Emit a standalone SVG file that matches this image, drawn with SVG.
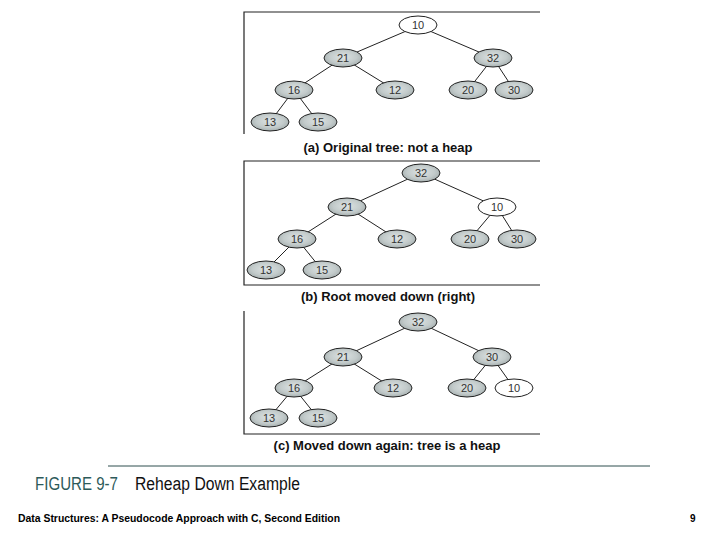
<svg xmlns="http://www.w3.org/2000/svg" width="720" height="540" viewBox="0 0 720 540">
<defs>
<radialGradient id="g" cx="0.5" cy="0.45" r="0.6">
<stop offset="0" stop-color="#dde3e3"/>
<stop offset="0.6" stop-color="#c3cbcb"/>
<stop offset="1" stop-color="#9fa9a9"/>
</radialGradient>
<style>
.n{fill:url(#g);stroke:#222;stroke-width:1}
.w{fill:#fff;stroke:#222;stroke-width:1}
.t{font-family:"Liberation Sans",Arial,sans-serif;font-size:11px;fill:#333;text-anchor:middle}
.e{stroke:#222;stroke-width:1;fill:none}
.f{stroke:#222;stroke-width:1.2;fill:none}
.cap{font-family:"Liberation Sans",Arial,sans-serif;font-size:13px;font-weight:bold;fill:#111;text-anchor:middle}
.fig{font-family:"Liberation Sans",Arial,sans-serif;font-size:18px}
</style>
</defs>
<rect width="720" height="540" fill="#fff"/>
<g id="frames">
<path class="f" d="M540 12 H244 V134"/>
<path class="f" d="M540 161 H244 V285 H540"/>
<path class="f" d="M244 311 V434 H540"/>
</g>
<g id="connectors">
<path class="e" d="M418 26 L343 58 M418 26 L493 58 M343 58 L294 90 M343 58 L395 90 M493 58 L468 90 M493 58 L514 90 M294 90 L270 122 M294 90 L318 122"/>
<path class="e" d="M421 173 L347 207 M421 173 L497 207 M347 207 L297 239 M347 207 L397 239 M497 207 L470 239 M497 207 L517 239 M297 239 L266 270 M297 239 L322 270"/>
<path class="e" d="M418 322 L343 357 M418 322 L492 357 M343 357 L294 388 M343 357 L393 388 M492 357 L467 388 M492 357 L514 388 M294 388 L269 418 M294 388 L318 418"/>
</g>
<g id="a10"><ellipse class="w" cx="418" cy="25" rx="19" ry="9"/><text class="t" x="418" y="29">10</text></g>
<g id="a21"><ellipse class="n" cx="343" cy="58" rx="19" ry="9"/><text class="t" x="343" y="62">21</text></g>
<g id="a32"><ellipse class="n" cx="493" cy="58" rx="19" ry="9"/><text class="t" x="493" y="62">32</text></g>
<g id="a16"><ellipse class="n" cx="294" cy="90" rx="19" ry="9"/><text class="t" x="294" y="94">16</text></g>
<g id="a12"><ellipse class="n" cx="395" cy="90" rx="19" ry="9"/><text class="t" x="395" y="94">12</text></g>
<g id="a20"><ellipse class="n" cx="468" cy="90" rx="19" ry="9"/><text class="t" x="468" y="94">20</text></g>
<g id="a30"><ellipse class="n" cx="514" cy="90" rx="19" ry="9"/><text class="t" x="514" y="94">30</text></g>
<g id="a13"><ellipse class="n" cx="270" cy="122" rx="19" ry="9"/><text class="t" x="270" y="126">13</text></g>
<g id="a15"><ellipse class="n" cx="318" cy="122" rx="19" ry="9"/><text class="t" x="318" y="126">15</text></g>
<text class="cap" x="388" y="152">(a) Original tree: not a heap</text>
<g id="b32"><ellipse class="n" cx="421" cy="173" rx="19" ry="9"/><text class="t" x="421" y="177">32</text></g>
<g id="b21"><ellipse class="n" cx="347" cy="207" rx="19" ry="9"/><text class="t" x="347" y="211">21</text></g>
<g id="b10"><ellipse class="w" cx="497" cy="207" rx="19" ry="9"/><text class="t" x="497" y="211">10</text></g>
<g id="b16"><ellipse class="n" cx="297" cy="239" rx="19" ry="9"/><text class="t" x="297" y="243">16</text></g>
<g id="b12"><ellipse class="n" cx="397" cy="239" rx="19" ry="9"/><text class="t" x="397" y="243">12</text></g>
<g id="b20"><ellipse class="n" cx="470" cy="239" rx="19" ry="9"/><text class="t" x="470" y="243">20</text></g>
<g id="b30"><ellipse class="n" cx="517" cy="239" rx="19" ry="9"/><text class="t" x="517" y="243">30</text></g>
<g id="b13"><ellipse class="n" cx="266" cy="270" rx="19" ry="9"/><text class="t" x="266" y="274">13</text></g>
<g id="b15"><ellipse class="n" cx="322" cy="270" rx="19" ry="9"/><text class="t" x="322" y="274">15</text></g>
<text class="cap" x="388" y="301">(b) Root moved down (right)</text>
<g id="c32"><ellipse class="n" cx="418" cy="322" rx="19" ry="9"/><text class="t" x="418" y="326">32</text></g>
<g id="c21"><ellipse class="n" cx="343" cy="357" rx="19" ry="9"/><text class="t" x="343" y="361">21</text></g>
<g id="c30"><ellipse class="n" cx="492" cy="357" rx="19" ry="9"/><text class="t" x="492" y="361">30</text></g>
<g id="c16"><ellipse class="n" cx="294" cy="388" rx="19" ry="9"/><text class="t" x="294" y="392">16</text></g>
<g id="c12"><ellipse class="n" cx="393" cy="388" rx="19" ry="9"/><text class="t" x="393" y="392">12</text></g>
<g id="c20"><ellipse class="n" cx="467" cy="388" rx="19" ry="9"/><text class="t" x="467" y="392">20</text></g>
<g id="c10"><ellipse class="w" cx="514" cy="388" rx="19" ry="9"/><text class="t" x="514" y="392">10</text></g>
<g id="c13"><ellipse class="n" cx="269" cy="418" rx="19" ry="9"/><text class="t" x="269" y="422">13</text></g>
<g id="c15"><ellipse class="n" cx="318" cy="418" rx="19" ry="9"/><text class="t" x="318" y="422">15</text></g>
<text class="cap" x="387" y="450">(c) Moved down again: tree is a heap</text>
<line x1="108" y1="466" x2="650" y2="466" stroke="#2f4f4f" stroke-width="1"/>
<text class="fig" x="35" y="490" fill="#2d5a5a" textLength="83" lengthAdjust="spacingAndGlyphs">FIGURE 9-7</text>
<text class="fig" x="135" y="490" fill="#111" textLength="165" lengthAdjust="spacingAndGlyphs">Reheap Down Example</text>
<text x="18" y="522" font-family="'Liberation Sans',Arial,sans-serif" font-size="10" font-weight="bold" fill="#000" textLength="322" lengthAdjust="spacingAndGlyphs">Data Structures: A Pseudocode Approach with C, Second Edition</text>
<text x="690" y="522" font-family="'Liberation Sans',Arial,sans-serif" font-size="10" font-weight="bold" fill="#000">9</text>
</svg>
